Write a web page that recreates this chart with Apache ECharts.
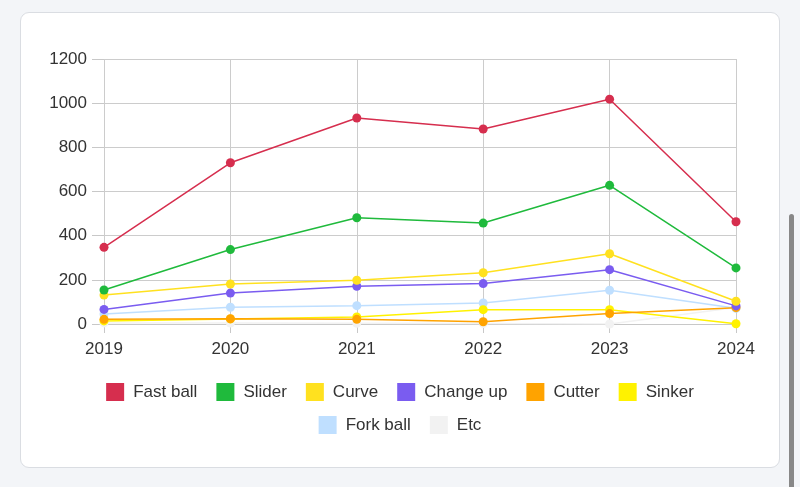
<!DOCTYPE html>
<html>
<head>
<meta charset="utf-8">
<script src="https://cdn.jsdelivr.net/npm/echarts@6/dist/echarts.min.js"></script>
<style>
  html, body { margin:0; padding:0; width:800px; height:487px; background:#f3f5f8; overflow:hidden; }
  #card { position:absolute; left:20px; top:12px; width:758px; height:454px; background:#fff; border:1px solid #dadde2; border-radius:9px; }
  #chart { position:absolute; left:0; top:0; width:800px; height:487px; }
  #scroll { position:absolute; left:789px; top:214px; width:5px; height:290px; background:#888; border-radius:3px; }
</style>
</head>
<body>
<div id="card"></div>
<div id="chart"></div>
<div id="scroll"></div>
<script>
const categories = ['2019', '2020', '2021', '2022', '2023', '2024'];
const seriesNames = ['Fast ball', 'Slider', 'Curve', 'Change up', 'Cutter', 'Sinker', 'Fork ball', 'Etc'];
const fastBall = [347, 730, 933, 883, 1018, 463];
const slider = [154, 337, 481, 457, 628, 254];
const curve = [131, 181, 198, 232, 318, 103];
const changeUp = [66, 140, 171, 183, 246, 82];
const cutter = [21, 24, 21, 10, 47, 74];
const sinker = [14, 23, 32, 65, 65, 1];
const forkBall = [45, 76, 83, 95, 153, 71];
const etc = [5, 4, 3, 2, 0, 75];
const yTicks = [0, 200, 400, 600, 800, 1000, 1200];
const colors = ['#d62e4e', '#1fba3c', '#ffe11f', '#7a5cf0', '#ffa300', '#fff200', '#bfdfff', '#f2f2f2'];

const dataList = [fastBall, slider, curve, changeUp, cutter, sinker, forkBall, etc];
const font = '"Liberation Sans", Arial, sans-serif';

const chart = echarts.init(document.getElementById('chart'), null, {renderer: 'canvas'});
const series = seriesNames.map((n, i) => ({
  name: n,
  type: 'line',
  data: dataList[i],
  symbol: 'circle',
  symbolSize: 9,
  z: 10 - i,
  lineStyle: { width: 1.5, color: colors[i] },
  itemStyle: { color: colors[i] },
  emphasis: { disabled: true },
  animation: false
}));

const legendCommon = {
  icon: 'rect',
  itemWidth: 18,
  itemHeight: 18,
  itemGap: 19,
  left: 'center',
  textStyle: { fontSize: 17, color: '#333', fontFamily: font, padding: [0, 0, 0, 4] },
  selectedMode: false
};

chart.setOption({
  color: colors,
  animation: false,
  grid: { left: 104, right: 64, top: 59, bottom: 163, containLabel: false },
  legend: [
    Object.assign({}, legendCommon, { data: seriesNames.slice(0, 6), top: 378 }),
    Object.assign({}, legendCommon, { data: seriesNames.slice(6), top: 411 })
  ],
  xAxis: {
    type: 'category',
    data: categories,
    boundaryGap: false,
    axisLine: { show: true, lineStyle: { color: '#c8c8c8', width: 1 } },
    axisTick: { show: true, length: 9, lineStyle: { color: '#c8c8c8' } },
    axisLabel: { fontSize: 17, color: '#333', fontFamily: font, margin: 17 },
    splitLine: { show: true, lineStyle: { color: '#cccccc', width: 1 } }
  },
  yAxis: {
    type: 'value',
    min: yTicks[0],
    max: yTicks[yTicks.length - 1],
    interval: 200,
    axisLine: { show: false },
    axisTick: { show: true, length: 12, lineStyle: { color: '#c8c8c8' } },
    axisLabel: { fontSize: 17, color: '#333', fontFamily: font, margin: 17, formatter: v => String(v) },
    splitLine: { show: true, lineStyle: { color: '#cccccc', width: 1 } }
  },
  series: series
});
</script>
</body>
</html>
